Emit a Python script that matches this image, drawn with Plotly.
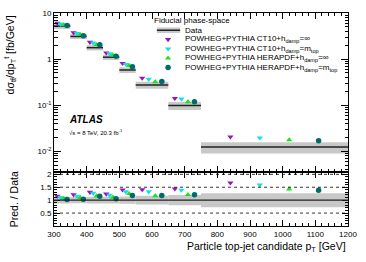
import plotly.graph_objects as go

# ---------------- data ----------------
bin_lo = [300, 350, 400, 450, 500, 550, 650, 750]
bin_hi = [350, 400, 450, 500, 550, 650, 750, 1200]
data_xs = [5.2, 3.1, 1.77, 1.10, 0.58, 0.275, 0.098, 0.0123]   # fb/GeV
rel_unc = [0.13, 0.12, 0.13, 0.13, 0.14, 0.17, 0.20, 0.27]

ratio_ct10_inf = [1.16, 1.21, 1.31, 1.24, 1.40, 1.41, 1.44, 1.67]
ratio_ct10_mtop = [1.11, 1.16, 1.27, 1.19, 1.33, 1.33, 1.39, 1.59]
ratio_hera_inf = [1.06, 1.10, 1.16, 1.11, 1.25, 1.17, 1.21, 1.43]
ratio_hera_mtop = [1.03, 1.04, 1.15, 1.05, 1.18, 1.18, 1.21, 1.38]

series_names = [
    "POWHEG+PYTHIA CT10+h<sub>damp</sub>=∞",
    "POWHEG+PYTHIA CT10+h<sub>damp</sub>=m<sub>top</sub>",
    "POWHEG+PYTHIA HERAPDF+h<sub>damp</sub>=∞",
    "POWHEG+PYTHIA HERAPDF+h<sub>damp</sub>=m<sub>top</sub>",
]
series_ratios = [ratio_ct10_inf, ratio_ct10_mtop, ratio_hera_inf, ratio_hera_mtop]
series_colors = ["#9B10C0", "#10E0E8", "#22DD22", "#006B6B"]
series_symbols = ["triangle-down", "triangle-down", "triangle-up", "circle"]

FONT = "Liberation Sans, Arial, Helvetica, sans-serif"
BAND = "#c8c8c8"
split = 0.2535

fig = go.Figure()

# ---------------- uncertainty bands ----------------
for lo, hi, d, e in zip(bin_lo, bin_hi, data_xs, rel_unc):
    fig.add_trace(go.Scatter(x=[lo, hi, hi, lo, lo], y=[d * (1 - e), d * (1 - e), d * (1 + e), d * (1 + e), d * (1 - e)],
                             fill="toself", fillcolor=BAND, mode="none", showlegend=False,
                             hoverinfo="skip", xaxis="x", yaxis="y"))
    fig.add_trace(go.Scatter(x=[lo, hi, hi, lo, lo], y=[1 - e, 1 - e, 1 + e, 1 + e, 1 - e],
                             fill="toself", fillcolor=BAND, mode="none", showlegend=False,
                             hoverinfo="skip", xaxis="x2", yaxis="y2"))

# data lines
dx, dy = [], []
for lo, hi, d in zip(bin_lo, bin_hi, data_xs):
    dx += [lo, hi, None]
    dy += [d, d, None]
fig.add_trace(go.Scatter(x=dx, y=dy, mode="lines", line=dict(color="#222222", width=1.5),
                         showlegend=False, xaxis="x", yaxis="y"))

# predictions
for k, (name, rat, col, sym) in enumerate(zip(series_names, series_ratios, series_colors, series_symbols)):
    xs = [lo + (k + 1) / 5 * (hi - lo) for lo, hi in zip(bin_lo, bin_hi)]
    pred = [d * r for d, r in zip(data_xs, rat)]
    fig.add_trace(go.Scatter(x=xs, y=pred, mode="markers", name=name,
                             marker=dict(symbol=sym, color=col, size=5.5, line=dict(width=0)),
                             showlegend=False, xaxis="x", yaxis="y"))
    fig.add_trace(go.Scatter(x=xs, y=rat, mode="markers",
                             marker=dict(symbol=sym, color=col, size=5.5, line=dict(width=0)),
                             showlegend=False, xaxis="x2", yaxis="y2"))

# ---------------- legend (manual) ----------------
row_y = [0.963, 0.919, 0.876, 0.832, 0.788, 0.744]   # paper coordinates
key_x = 0.388
text_x = 0.439
# overlay axis y3 shares the top panel's domain -> convert paper y to that domain
key_y = [(r - split) / (1 - split) for r in row_y[2:]]
fig.add_trace(go.Scatter(x=[key_x] * 4, y=key_y,
                         mode="markers",
                         marker=dict(symbol=series_symbols, color=series_colors, size=5.5, line=dict(width=0)),
                         showlegend=False, hoverinfo="skip", xaxis="x3", yaxis="y3"))

annotations = [
    dict(text="Fiducial phase-space", x=0.332, y=row_y[0], xref="paper", yref="paper",
         xanchor="left", yanchor="middle", showarrow=False, font=dict(size=8)),
    dict(text="Data", x=text_x, y=row_y[1], xref="paper", yref="paper",
         xanchor="left", yanchor="middle", showarrow=False, font=dict(size=8)),
]
for name, yy in zip(series_names, row_y[2:]):
    annotations.append(dict(text=name, x=text_x, y=yy, xref="paper", yref="paper",
                            xanchor="left", yanchor="middle", showarrow=False, font=dict(size=8)))

annotations += [
    dict(text="<b><i>ATLAS</i></b>", x=0.044, y=0.502, xref="paper", yref="paper",
         xanchor="left", yanchor="middle", showarrow=False, font=dict(size=10)),
    dict(text="√s = 8 TeV, 20.3 fb<sup>-1</sup>", x=0.044, y=0.442, xref="paper", yref="paper",
         xanchor="left", yanchor="middle", showarrow=False, font=dict(size=6)),
    dict(text="dσ<sub>tt̄</sub>/dp<sub>T</sub><sup>t</sup> [fb/GeV]", x=-0.150, y=1.0, xref="paper", yref="paper",
         xanchor="center", yanchor="top", textangle=-90, showarrow=False, font=dict(size=10.5)),
    dict(text="Pred. / Data", x=-0.135, y=0.127, xref="paper", yref="paper",
         xanchor="center", yanchor="middle", textangle=-90, showarrow=False, font=dict(size=10.5)),
    dict(text="Particle top-jet candidate p<sub>T</sub> [GeV]", x=1.0, y=-0.100, xref="paper", yref="paper",
         xanchor="right", yanchor="middle", showarrow=False, font=dict(size=10.5)),
]

shapes = [
    # data legend key
    dict(type="rect", xref="paper", yref="paper", x0=0.350, x1=0.429, y0=row_y[1] - 0.013, y1=row_y[1] + 0.013,
         fillcolor=BAND, line=dict(width=0), layer="above"),
    dict(type="line", xref="paper", yref="paper", x0=0.350, x1=0.429, y0=row_y[1], y1=row_y[1],
         line=dict(color="#222222", width=1.5), layer="above"),
]
# ratio reference lines
for v in [0.5, 1.5, 2.0]:
    shapes.append(dict(type="line", xref="x2 domain", yref="y2", x0=0, x1=1, y0=v, y1=v,
                       line=dict(color="black", width=0.8, dash="dot"), layer="above"))
shapes.append(dict(type="line", xref="x2 domain", yref="y2", x0=0, x1=1, y0=1, y1=1,
                   line=dict(color="#222222", width=1.2), layer="above"))

minor_log = [m * 10 ** e for e in range(-3, 1) for m in range(2, 10)]

axis_common = dict(showline=True, linecolor="black", linewidth=1, mirror="ticks", ticks="inside",
                   tickcolor="black", showgrid=False, zeroline=False)

fig.update_layout(
    width=366, height=262,
    margin=dict(l=54, r=18, t=9, b=36),
    paper_bgcolor="white", plot_bgcolor="white",
    font=dict(family=FONT, color="black", size=8),
    showlegend=False,
    hovermode=False,
    annotations=annotations,
    shapes=shapes,
    xaxis=dict(domain=[0, 1], anchor="y", range=[300, 1200], dtick=100, tick0=300, ticklen=6,
               showticklabels=False, minor=dict(dtick=20, ticks="inside", ticklen=3, tickcolor="black"),
               **axis_common),
    yaxis=dict(domain=[split, 1], anchor="x", type="log", range=[-2.45, 1.0],
               tickvals=[0.01, 0.1, 1, 10], ticktext=["10<sup>-2</sup>", "10<sup>-1</sup>", "1", "10"],
               ticklen=7, minor=dict(tickvals=minor_log, ticks="inside", ticklen=3.5, tickcolor="black"),
               tickfont=dict(size=8), **axis_common),
    xaxis2=dict(domain=[0, 1], anchor="y2", range=[300, 1200], dtick=100, tick0=300, ticklen=6,
                tickfont=dict(size=8), minor=dict(dtick=20, ticks="inside", ticklen=3, tickcolor="black"),
                **axis_common),
    yaxis2=dict(domain=[0, split], anchor="x2", range=[0, 2.09],
                tickvals=[0.5, 1, 1.5, 2], ticktext=["0.5", "1", "1.5", "2"], ticklen=6,
                minor=dict(dtick=0.1, ticks="inside", ticklen=3, tickcolor="black"),
                tickfont=dict(size=8), **axis_common),
    xaxis3=dict(anchor="y3", range=[0, 1], visible=False, overlaying="x"),
    yaxis3=dict(anchor="x3", range=[0, 1], visible=False, overlaying="y"),
)

fig.write_html("out.html", config={"displayModeBar": False, "staticPlot": True},
               post_script="document.body.style.margin='0px';")
